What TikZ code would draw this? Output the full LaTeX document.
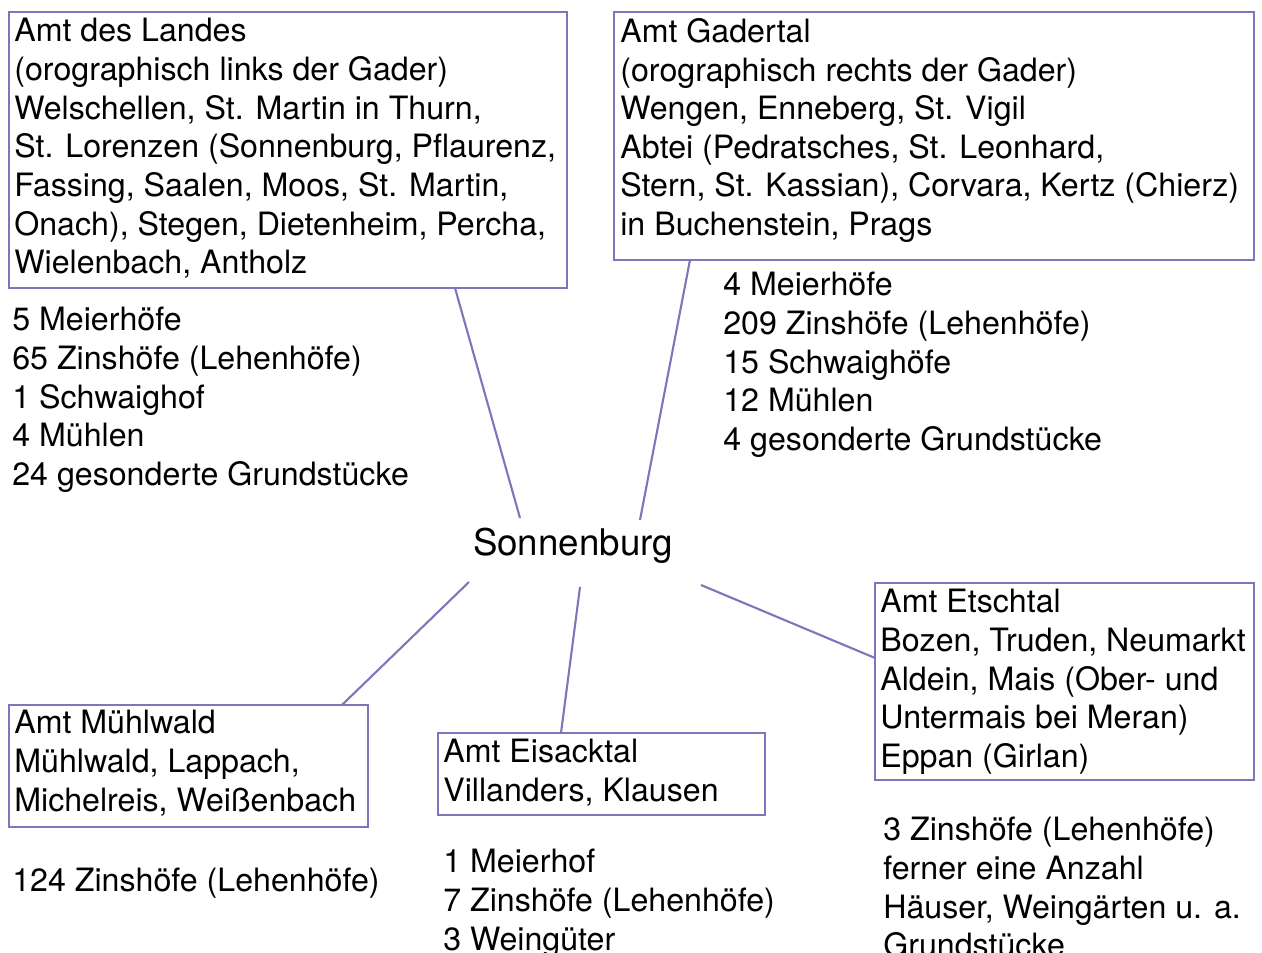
\documentclass[tikz,border=0pt]{standalone}
\usepackage{fontspec}
\setmainfont{TeX Gyre Heros}
\definecolor{amtlila}{RGB}{128,116,186}

\begin{document}
\begin{tikzpicture}[x=0.02cm,y=-0.02cm,
		amt/.style={draw=amtlila,line width=1.2pt,anchor=north west,inner sep=0pt,outer sep=0pt},
		txt/.style={anchor=north west,align=left,inner sep=0pt,font=\fontsize{18.3}{22}\selectfont},
		verb/.style={amtlila,line width=1.2pt}]
		\useasboundingbox (0,0) rectangle (1262,953);
		
		\node[amt,minimum width=11.16cm,minimum height=5.52cm] (landes) at (9,12) {};
		\node[amt,minimum width=12.8cm,minimum height=4.96cm] (gader) at (614,12) {};
		\node[amt,minimum width=7.18cm,minimum height=2.44cm] (muehl) at (9,705) {};
		\node[amt,minimum width=6.54cm,minimum height=1.64cm] (eisack) at (438,733) {};
		\node[amt,minimum width=7.58cm,minimum height=3.94cm] (etsch) at (875,583) {};
		
		\node[txt] (landesT) at (14,18) {Amt des Landes\\(orographisch links der Gader)\\Welschellen, St. Martin in Thurn,\\St. Lorenzen (Sonnenburg, Pflaurenz,\\Fassing, Saalen, Moos, St. Martin,\\Onach), Stegen, Dietenheim, Percha,\\Wielenbach, Antholz};
		\node[txt] (gaderT) at (620,18) {Amt Gadertal\\(orographisch rechts der Gader)\\Wengen, Enneberg, St. Vigil\\Abtei (Pedratsches, St. Leonhard,\\Stern, St. Kassian), Corvara, Kertz (Chierz)\\in Buchenstein, Prags};
		\node[txt] (muehlT) at (14,710) {Amt Mühlwald\\Mühlwald, Lappach,\\Michelreis, Weißenbach};
		\node[txt] (eisackT) at (443,739) {Amt Eisacktal\\Villanders, Klausen};
		\node[txt] (etschT) at (880,589) {Amt Etschtal\\Bozen, Truden, Neumarkt\\Aldein, Mais (Ober- und\\Untermais bei Meran)\\Eppan (Girlan)};
		
		\node[txt] (landesN) at (12,307) {5 Meierhöfe\\65 Zinshöfe (Lehenhöfe)\\1 Schwaighof\\4 Mühlen\\24 gesonderte Grundstücke};
		\node[txt] (gaderN) at (723,272) {4 Meierhöfe\\209 Zinshöfe (Lehenhöfe)\\15 Schwaighöfe\\12 Mühlen\\4 gesonderte Grundstücke};
		\node[txt] (muehlN) at (12,868) {124 Zinshöfe (Lehenhöfe)};
		\node[txt] (eisackN) at (443,849) {1 Meierhof\\7 Zinshöfe (Lehenhöfe)\\3 Weingüter};
		\node[txt] (etschN) at (883,817) {3 Zinshöfe (Lehenhöfe)\\ferner eine Anzahl\\Häuser, Weingärten u. a.\\Grundstücke};
		
		\node[inner sep=0pt,font=\fontsize{20.9}{25}\selectfont] (sonne) at (573,545.5) {Sonnenburg};
		
		\draw[verb] ([shift={(446,0)}]landes.south west) -- ([shift={(-53,-27.5)}]sonne.center);
		\draw[verb] ([shift={(76,0)}]gader.south west) -- ([shift={(67,-25.5)}]sonne.center);
		\draw[verb] ([shift={(-26,0)}]muehl.north east) -- ([shift={(-104,36.5)}]sonne.center);
		\draw[verb] ([shift={(123,0)}]eisack.north west) -- ([shift={(7,41.5)}]sonne.center);
		\draw[verb] ([shift={(0,-23.5)}]etsch.west) -- ([shift={(128,39.5)}]sonne.center);
\end{tikzpicture}
\end{document}
